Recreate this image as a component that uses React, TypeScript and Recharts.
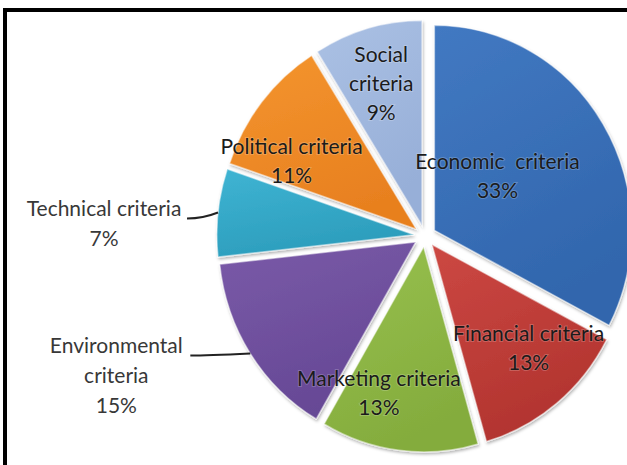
import React from 'react';
import { PieChart, Pie, Cell, Sector } from 'recharts';

// criteria shares, clockwise from 12 o'clock
const CATEGORIES = [
  'Economic  criteria',
  'Financial criteria',
  'Marketing criteria',
  'Environmental criteria',
  'Technical criteria',
  'Political criteria',
  'Social criteria',
];
const SHARES = [33, 13, 13, 15, 7, 11, 9];

// light / dark stops per slice
const LIGHT = ['#4279c2', '#cc4843', '#98c14e', '#7a5aa8', '#3fb4d3', '#f4952f', '#abc1e4'];
const DARK = ['#3166ad', '#b2342f', '#84ac3d', '#664895', '#2c9dbc', '#e8801f', '#97afd8'];

const RADIAN = Math.PI / 180;
const EXPLODE = 11;
const X_SCALE = 0.962;
const FONT = 'Lato, "Open Sans", sans-serif';
const LINE_H = 29;
const TEXT_SHIFT = -6;

// label placement: [radius, angle nudge (deg, clockwise)] for inside labels
const INSIDE: Record<number, [number, number]> = {
  0: [91, -6],
  1: [156, -2.4],
  2: [168, 8.8],
  5: [151, -10.4],
  6: [154, -0.5],
};
// outside labels: leader length, leader drop, text centre offset from leader end
const OUTSIDE: Record<number, { lead: number; dy: number; tx: number }> = {
  3: { lead: 60, dy: 2, tx: 74 },
  4: { lead: 31, dy: 6, tx: 83 },
};
// which names break onto two lines
const WRAPPED = [3, 6];

const data = CATEGORIES.map((name, i) => ({ name, value: SHARES[i] }));

const ExplodedSlice = (props: any) => {
  const { cx, cy, midAngle, index } = props;
  const dx = EXPLODE * Math.cos(-midAngle * RADIAN);
  const dy = EXPLODE * Math.sin(-midAngle * RADIAN);
  return (
    <g
      transform={`translate(${cx + dx} ${cy + dy}) scale(${X_SCALE} 1) translate(${-cx} ${-cy})`}
      filter="url(#sliceShadow)"
    >
      <Sector
        {...props}
        fill={`url(#grad${index})`}
        stroke="rgba(255,255,255,0.5)"
        strokeWidth={1.5}
      />
    </g>
  );
};

const renderLabel = (props: any) => {
  const { cx, cy, midAngle, outerRadius, index, name, value } = props;
  const lines = WRAPPED.includes(index)
    ? [name.split(' ')[0], name.split(' ').slice(1).join(' '), `${value}%`]
    : [name, `${value}%`];

  if (INSIDE[index]) {
    const [r, nudge] = INSIDE[index];
    const clock = 90 - midAngle + nudge;
    const x = cx + r * Math.sin(clock * RADIAN);
    const y = cy - r * Math.cos(clock * RADIAN);
    const top = y - ((lines.length - 1) * LINE_H) / 2 + TEXT_SHIFT;
    return (
      <text
        key={`lbl-${index}`}
        x={x}
        y={top}
        textAnchor="middle"
        dominantBaseline="central"
        fontFamily={FONT}
        fontSize={21}
        fill="#1b1b1b"
        stroke="rgba(255,255,255,0.2)"
        strokeWidth={2}
        paintOrder="stroke"
        style={{ whiteSpace: 'pre' }}
      >
        {lines.map((t, k) => (
          <tspan key={k} x={x} dy={k === 0 ? 0 : LINE_H}>
            {t}
          </tspan>
        ))}
      </text>
    );
  }

  const o = OUTSIDE[index];
  const cosA = Math.cos(-midAngle * RADIAN);
  const sinA = Math.sin(-midAngle * RADIAN);
  const ex = cx + EXPLODE * cosA + outerRadius * X_SCALE * cosA;
  const ey = cy + EXPLODE * sinA + outerRadius * sinA;
  const lx = ex - o.lead;
  const ly = ey + o.dy;
  const tx = lx - o.tx;
  const ty = ly - 6 + TEXT_SHIFT;
  return (
    <g key={`lbl-${index}`}>
      <path
        d={`M${ex},${ey} Q${lx + 16},${ly} ${lx},${ly}`}
        stroke="#222"
        strokeWidth={2}
        fill="none"
      />
      <text
        x={tx}
        y={ty}
        textAnchor="middle"
        dominantBaseline="central"
        fontFamily={FONT}
        fontSize={21}
        fill="#383838"
      >
        {lines.map((t, k) => (
          <tspan key={k} x={tx} dy={k === 0 ? 0 : LINE_H + 1}>
            {t}
          </tspan>
        ))}
      </text>
    </g>
  );
};

const App: React.FC = () => {
  return (
    <div style={{ position: 'absolute', left: 0, top: 0, width: 627, height: 465, background: '#fff' }}>
      <div
        style={{
          position: 'absolute',
          left: 3,
          top: 8,
          width: 640,
          height: 480,
          borderTop: '4px solid #000',
          borderLeft: '4px solid #000',
          boxSizing: 'border-box',
        }}
      />
      <PieChart width={627} height={465} style={{ position: 'absolute', left: 0, top: 0 }}>
        <defs>
          {LIGHT.map((c, i) => (
            <linearGradient key={i} id={`grad${i}`} x1="0" y1="0" x2="0.4" y2="1">
              <stop offset="0%" stopColor={c} />
              <stop offset="100%" stopColor={DARK[i]} />
            </linearGradient>
          ))}
          <filter id="sliceShadow" x="-10%" y="-10%" width="130%" height="130%">
            <feDropShadow dx="1" dy="2" stdDeviation="1.5" floodColor="#000" floodOpacity="0.3" />
          </filter>
        </defs>
        <Pie
          data={data}
          dataKey="value"
          nameKey="name"
          cx={420}
          cy={231}
          outerRadius={205}
          startAngle={90}
          endAngle={-270}
          stroke="#fff"
          shape={ExplodedSlice}
          label={renderLabel}
          labelLine={false}
          isAnimationActive={false}
        >
          {data.map((d, i) => (
            <Cell key={`cell-${i}`} fill={`url(#grad${i})`} />
          ))}
        </Pie>
      </PieChart>
    </div>
  );
};

export default App;
